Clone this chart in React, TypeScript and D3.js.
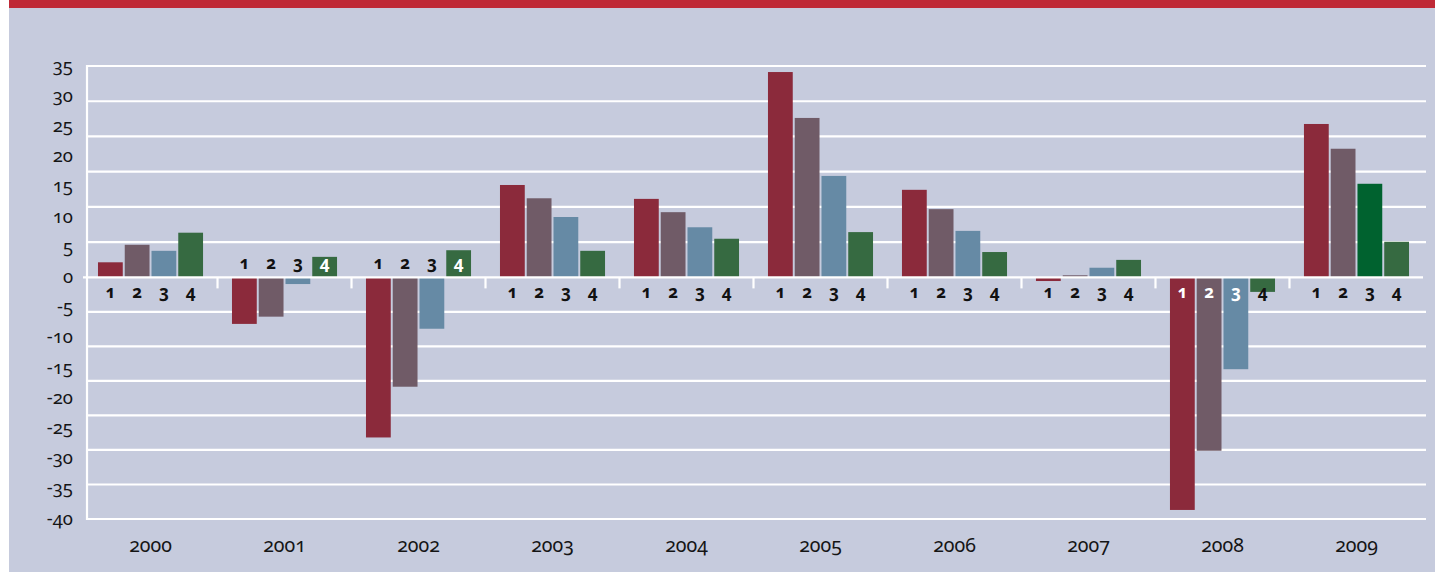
import * as d3 from "d3";
import { useEffect, useRef } from "react";

const years = ["2000", "2001", "2002", "2003", "2004", "2005", "2006", "2007", "2008", "2009"];
const quarters = ["1", "2", "3", "4"];

// quarterly values per year (Q1..Q4)
const q1 = [2.5, -7.7, -26.5, 15.3, 13.0, 34.0, 14.5, -0.6, -38.5, 25.4];
const q2 = [5.4, -6.5, -18.1, 13.1, 10.8, 26.4, 11.3, 0.35, -28.7, 21.3];
const q3 = [4.4, -1.1, -8.5, 10.0, 8.3, 16.8, 7.7, 1.6, -15.2, 15.5];
const q4 = [7.4, 3.4, 4.5, 4.4, 6.4, 7.5, 4.2, 2.9, -2.4, 5.9];

const yTicks = [35, 30, 25, 20, 15, 10, 5, 0, -5, -10, -15, -20, -25, -30, -35, -40];

// years whose quarter labels sit above the zero line
const labelsAbove = ["2001", "2002"];

const quarterColors = ["#8b2a3b", "#705b67", "#668aa5", "#366a41"];
// single bar drawn in a different green in the source
const colorOverrides = [{ year: "2009", quarter: "3", color: "#00622f" }];

const WIDTH = 1435;
const HEIGHT = 572;

export default function App() {
  const svgRef = useRef<SVGSVGElement>(null);

  useEffect(() => {
    document.body.style.margin = "0";
    if (!svgRef.current) return;
    const svg = d3.select(svgRef.current);
    svg.selectAll("*").remove();

    const font = "'Noto Sans', sans-serif";

    // backgrounds
    svg.append("rect").attr("x", 9).attr("y", 0).attr("width", WIDTH - 9).attr("height", HEIGHT).attr("fill", "#c6cbdd");
    svg.append("rect").attr("x", 9).attr("y", 0).attr("width", WIDTH - 9).attr("height", 8).attr("fill", "#bf2936");

    const y = d3.scaleLinear().domain([-40, 35]).range([519, 66]);
    const x0 = d3.scaleBand<string>().domain(years).range([87, 1420]).paddingInner(0.216).paddingOuter(0.082);
    const x1 = d3.scaleBand<string>().domain(quarters).range([0, x0.bandwidth()]).paddingInner(0.074);

    const axisLeft = 87;
    const gridRight = 1426;

    // grid lines: 6 divisions above zero, 7 below (as in the source)
    const gridVals = [
      ...d3.range(1, 7).map((k) => (35 * k) / 6),
      ...d3.range(1, 8).map((k) => (-40 * k) / 7),
    ];
    svg
      .append("g")
      .selectAll("line")
      .data(gridVals)
      .enter()
      .append("line")
      .attr("x1", axisLeft)
      .attr("x2", gridRight)
      .attr("y1", (d) => y(d))
      .attr("y2", (d) => y(d))
      .attr("stroke", "#fff")
      .attr("stroke-width", 2.2);

    svg
      .append("line")
      .attr("x1", axisLeft)
      .attr("x2", axisLeft)
      .attr("y1", y(35) - 1)
      .attr("y2", y(-40) + 1)
      .attr("stroke", "#fff")
      .attr("stroke-width", 2.2);

    // y labels
    svg
      .append("g")
      .selectAll("text")
      .data(yTicks)
      .enter()
      .append("text")
      .attr("x", 73)
      .attr("y", (d) => y(d) + 5.5)
      .attr("text-anchor", "end")
      .style("font-family", font)
      .style("font-size", "18.5px")
      .style("font-variant-numeric", "oldstyle-nums")
      .style("fill", "#151515")
      .text((d) => String(d));

    // bars
    const series = [q1, q2, q3, q4];
    const rows = years.map((yr, i) => ({
      year: yr,
      values: quarters.map((q, j) => ({ year: yr, quarter: q, value: series[j][i], idx: j })),
    }));

    const groups = svg
      .append("g")
      .selectAll("g")
      .data(rows)
      .enter()
      .append("g")
      .attr("transform", (d) => `translate(${x0(d.year)},0)`);

    const colorOf = (d: { year: string; quarter: string; idx: number }) => {
      const o = colorOverrides.find((c) => c.year === d.year && c.quarter === d.quarter);
      return o ? o.color : quarterColors[d.idx];
    };

    groups
      .selectAll("rect")
      .data((d) => d.values)
      .enter()
      .append("rect")
      .attr("x", (d) => x1(d.quarter)!)
      .attr("width", x1.bandwidth())
      .attr("y", (d) => y(Math.max(0, d.value)))
      .attr("height", (d) => Math.abs(y(d.value) - y(0)))
      .attr("fill", colorOf);

    // zero line with group ticks
    const zero = y(0);
    svg
      .append("line")
      .attr("x1", 83)
      .attr("x2", 1423)
      .attr("y1", zero)
      .attr("y2", zero)
      .attr("stroke", "#fff")
      .attr("stroke-width", 2.2);
    const boundaries = years.slice(1).map((yr) => x0(yr)! - (x0.step() * 0.216) / 2);
    svg
      .append("g")
      .selectAll("line")
      .data(boundaries)
      .enter()
      .append("line")
      .attr("x1", (d) => d)
      .attr("x2", (d) => d)
      .attr("y1", zero)
      .attr("y2", zero + 11)
      .attr("stroke", "#fff")
      .attr("stroke-width", 2.2);

    // quarter labels
    groups
      .selectAll("text")
      .data((d) => d.values)
      .enter()
      .append("text")
      .attr("x", (d) => x1(d.quarter)! + x1.bandwidth() / 2)
      .attr("y", (d) => (labelsAbove.includes(d.year) ? zero - 8.5 : zero + 20.5))
      .attr("text-anchor", "middle")
      .style("font-family", font)
      .style("font-size", "17px")
      .style("font-weight", "bold")
      .style("font-variant-numeric", "oldstyle-nums")
      .style("fill", (d) => {
        const labelY = labelsAbove.includes(d.year) ? zero - 13 : zero + 16;
        const top = y(Math.max(0, d.value));
        const bottom = y(Math.min(0, d.value));
        return labelY > top && labelY < bottom ? "#ffffff" : "#111111";
      })
      .text((d) => d.quarter);

    // year labels
    svg
      .append("g")
      .selectAll("text")
      .data(years)
      .enter()
      .append("text")
      .attr("x", (d) => x0(d)! + x0.bandwidth() / 2)
      .attr("y", 552)
      .attr("text-anchor", "middle")
      .style("font-family", font)
      .style("font-size", "19.5px")
      .style("font-variant-numeric", "oldstyle-nums")
      .style("fill", "#151515")
      .text((d) => d);
  }, []);

  return (
    <svg
      ref={svgRef}
      width={WIDTH}
      height={HEIGHT}
      style={{ position: "absolute", left: 0, top: 0, display: "block" }}
    />
  );
}
